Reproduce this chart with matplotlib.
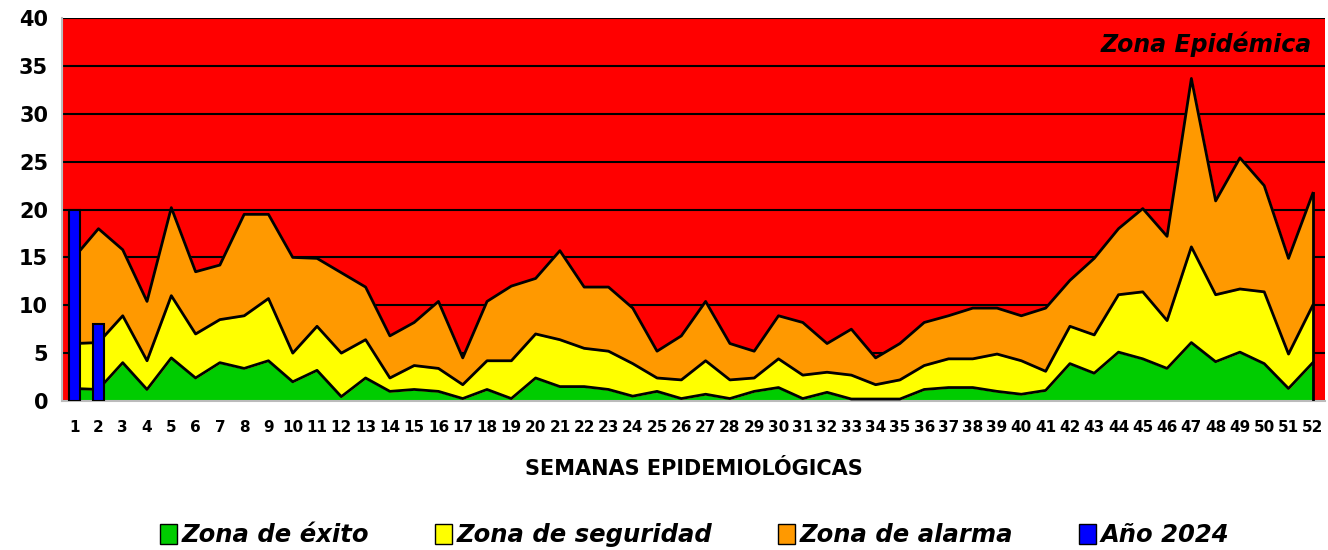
import matplotlib
matplotlib.use('Agg')
import matplotlib.pyplot as plt
from matplotlib.patches import Patch

weeks = list(range(1, 53))

# limits of the endemic channel (cumulative levels)
lower = [1.3, 1.2, 4.0, 1.2, 4.5, 2.4, 4.0, 3.4, 4.2, 2.0,
         3.2, 0.45, 2.4, 1.0, 1.2, 1.0, 0.25, 1.2, 0.25, 2.4,
         1.5, 1.5, 1.2, 0.5, 1.0, 0.25, 0.7, 0.25, 1.0, 1.4,
         0.25, 0.9, 0.2, 0.2, 0.2, 1.2, 1.4, 1.4, 1.0, 0.7,
         1.1, 3.9, 2.9, 5.1, 4.4, 3.4, 6.1, 4.1, 5.1, 3.9,
         1.3, 4.0]
middle = [6.0, 6.1, 8.9, 4.2, 11.0, 7.0, 8.5, 8.9, 10.7, 5.0,
          7.8, 5.0, 6.4, 2.4, 3.7, 3.4, 1.7, 4.2, 4.2, 7.0,
          6.4, 5.5, 5.2, 3.9, 2.4, 2.2, 4.2, 2.2, 2.4, 4.4,
          2.7, 3.0, 2.7, 1.7, 2.2, 3.7, 4.4, 4.4, 4.9, 4.2,
          3.1, 7.8, 6.9, 11.1, 11.4, 8.4, 16.1, 11.1, 11.7, 11.4,
          4.9, 10.0]
upper = [15.0, 18.0, 15.8, 10.4, 20.2, 13.5, 14.2, 19.5, 19.5, 15.0,
         14.9, 13.4, 11.9, 6.8, 8.2, 10.4, 4.5, 10.4, 12.0, 12.8,
         15.7, 11.9, 11.9, 9.7, 5.2, 6.8, 10.4, 6.0, 5.2, 8.9,
         8.2, 6.0, 7.5, 4.5, 6.0, 8.2, 8.9, 9.7, 9.7, 8.9,
         9.7, 12.6, 14.9, 18.0, 20.1, 17.2, 33.7, 20.9, 25.4, 22.5,
         14.9, 21.7]

weeks_2024 = [1, 2]
cases_2024 = [20, 8]

GREEN = '#00cc00'
YELLOW = '#ffff00'
ORANGE = '#ff9900'
RED = '#ff0000'
BLUE = '#0000ff'

plt.rcParams['font.family'] = ['DejaVu Sans']
plt.rcParams['font.weight'] = 'bold'

fig = plt.figure(figsize=(13.28, 5.5), dpi=100)
ax = fig.add_axes([0.0467, 0.271, 0.951, 0.696])
ax.set_facecolor(RED)

ax.set_xlim(0.5, 52.5)
ax.set_ylim(0, 40)
ax.set_yticks(range(0, 41, 5))
ax.yaxis.grid(True, color='black', linewidth=1.5)
ax.set_axisbelow(True)

# stacked zones of the channel
ax.fill_between(weeks, 0, lower, color=GREEN, zorder=2)
ax.fill_between(weeks, lower, middle, color=YELLOW, zorder=2)
ax.fill_between(weeks, middle, upper, color=ORANGE, zorder=2)
for level in (lower, middle, upper):
    ax.plot(weeks, level, color='black', linewidth=2, zorder=3)
ax.plot([weeks[-1], weeks[-1]], [0, upper[-1]], color='black', linewidth=2, zorder=3)

ax.bar(weeks_2024, cases_2024, width=0.44, color=BLUE,
       edgecolor='black', linewidth=1.5, zorder=4)

ax.text(0.990, 0.932, 'Zona Epidémica', transform=ax.transAxes,
        ha='right', va='center', fontsize=17, fontweight='bold',
        fontstyle='italic', color='black', zorder=5)

ax.set_xticks(weeks)
ax.set_xticklabels([str(w) for w in weeks], fontsize=11, fontweight='bold')
ax.tick_params(axis='x', length=0, pad=14)
ax.tick_params(axis='y', length=0, pad=10, labelsize=15)
for lbl in ax.get_yticklabels():
    lbl.set_fontweight('bold')

for side in ('top', 'right'):
    ax.spines[side].set_visible(False)
for side in ('left', 'bottom'):
    ax.spines[side].set_color('#bbbbbb')
    ax.spines[side].set_linewidth(1.5)

ax.set_xlabel('SEMANAS EPIDEMIOLÓGICAS', fontsize=15, fontweight='bold', labelpad=17)

handles = [
    Patch(facecolor=GREEN, edgecolor='black', label='Zona de éxito'),
    Patch(facecolor=YELLOW, edgecolor='black', label='Zona de seguridad'),
    Patch(facecolor=ORANGE, edgecolor='black', label='Zona de alarma'),
    Patch(facecolor=BLUE, edgecolor='black', label='Año 2024'),
]
fig.legend(handles=handles, loc='center', bbox_to_anchor=(0.523, 0.027), ncol=4,
           frameon=False, handlelength=0.7, handleheight=0.9, handletextpad=0.2,
           columnspacing=2.7,
           prop={'size': 17.5, 'weight': 'bold', 'style': 'italic'})

fig.savefig('out.png', dpi=100)
